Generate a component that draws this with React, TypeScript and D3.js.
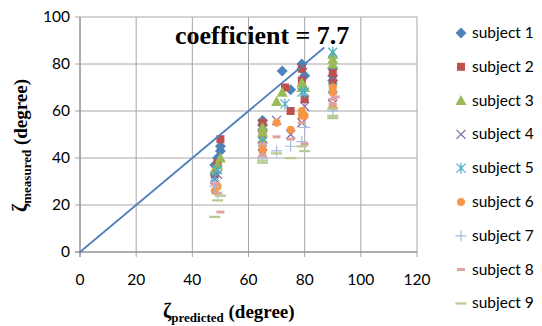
import React from "react";
import * as d3 from "d3";

// x = predicted, y = measured (degrees)
const subjectNames = [
  "subject 1", "subject 2", "subject 3", "subject 4", "subject 5",
  "subject 6", "subject 7", "subject 8", "subject 9",
];
const s1: [number, number][] = [[48, 37], [49, 40], [50, 43], [50, 45], [65, 52], [65, 54], [65, 56], [72, 77], [75, 69], [79, 80], [79, 78], [80, 75], [90, 78], [90, 75], [90, 73]];
const s2: [number, number][] = [[48, 33], [49, 38], [50, 48], [65, 50], [65, 55], [73, 70], [75, 60], [79, 78], [79, 73], [80, 65], [90, 72], [90, 76]];
const s3: [number, number][] = [[48, 35], [49, 37], [50, 40], [65, 48], [65, 51], [65, 53], [70, 64], [72, 68], [79, 72], [79, 70], [80, 70], [90, 80], [90, 82], [90, 84]];
const s4: [number, number][] = [[48, 31], [49, 33], [65, 42], [65, 45], [70, 56], [75, 50], [79, 55], [80, 62], [90, 63], [90, 66]];
const s5: [number, number][] = [[48, 32], [49, 35], [65, 47], [73, 63], [79, 68], [80, 68], [90, 70], [90, 85]];
const s6: [number, number][] = [[48, 26], [49, 28], [65, 43], [65, 44], [70, 55], [75, 52], [79, 60], [79, 58], [80, 58], [90, 62], [90, 68], [90, 70]];
const s7: [number, number][] = [[48, 28], [49, 25], [65, 40], [70, 43], [75, 45], [79, 47], [80, 53], [90, 60]];
const s8: [number, number][] = [[48, 29], [49, 25], [50, 17], [65, 41], [65, 46], [70, 49], [75, 48], [79, 55], [80, 46], [90, 63], [90, 65], [91, 66]];
const s9: [number, number][] = [[48, 15], [49, 22], [50, 24], [65, 38], [65, 39], [70, 42], [75, 40], [79, 45], [80, 43], [90, 57], [90, 58], [90, 61]];
const seriesData = [s1, s2, s3, s4, s5, s6, s7, s8, s9];
const colors = ["#4F81BD", "#C0504D", "#9BBB59", "#8064A2", "#4BACC6", "#F79646", "#AAB9DC", "#E0A0A0", "#B5CB8F"];
const xTicks = [0, 20, 40, 60, 80, 100, 120];
const yTicks = [0, 20, 40, 60, 80, 100];
const refLine: [number, number][] = [[0, 0], [87, 87]];

const x = d3.scaleLinear().domain([0, 120]).range([80, 417]);
const y = d3.scaleLinear().domain([0, 100]).range([252, 17]);

const Marker = ({ i, cx, cy }: { i: number; cx: number; cy: number }) => {
  const c = colors[i];
  switch (i) {
    case 0:
      return <path d={`M${cx},${cy - 5.5}L${cx + 5.5},${cy}L${cx},${cy + 5.5}L${cx - 5.5},${cy}Z`} fill={c} />;
    case 1:
      return <rect x={cx - 4} y={cy - 4} width={8} height={8} fill={c} />;
    case 2:
      return <path d={`M${cx},${cy - 5.5}L${cx + 5.5},${cy + 4.5}L${cx - 5.5},${cy + 4.5}Z`} fill={c} />;
    case 3:
      return <path d={`M${cx - 4.5},${cy - 4.5}L${cx + 4.5},${cy + 4.5}M${cx + 4.5},${cy - 4.5}L${cx - 4.5},${cy + 4.5}`} stroke={c} strokeWidth={1.2} />;
    case 4:
      return <path d={`M${cx - 4.5},${cy - 4.5}L${cx + 4.5},${cy + 4.5}M${cx + 4.5},${cy - 4.5}L${cx - 4.5},${cy + 4.5}M${cx},${cy - 5.5}L${cx},${cy + 5.5}`} stroke={c} strokeWidth={1.2} />;
    case 5:
      return <circle cx={cx} cy={cy} r={4} fill={c} />;
    case 6:
      return <path d={`M${cx - 5.5},${cy}L${cx + 5.5},${cy}M${cx},${cy - 5.5}L${cx},${cy + 5.5}`} stroke={c} strokeWidth={1.2} />;
    case 7:
      return <rect x={cx - 4} y={cy - 1.5} width={8} height={3} fill={c} />;
    default:
      return <rect x={cx - 5.5} y={cy - 1} width={11} height={2.2} fill={c} />;
  }
};

const line = d3.line<[number, number]>().x((d) => x(d[0])).y((d) => y(d[1]));

export default function App() {
  const tickFont = "Lato, 'Open Sans', sans-serif";
  return (
    <svg width={542} height={326} style={{ position: "absolute", left: 0, top: 0 }}>
      <rect width={542} height={326} fill="#fff" />
      {/* grid */}
      {yTicks.map((t) => (
        <line key={"gy" + t} x1={x(0) - 5} x2={x(120)} y1={y(t)} y2={y(t)} stroke="#A6A6A6" strokeWidth={1} />
      ))}
      {xTicks.map((t) => (
        <line key={"gx" + t} x1={x(t)} x2={x(t)} y1={y(100)} y2={y(0) + 5} stroke="#A6A6A6" strokeWidth={1} />
      ))}
      <line x1={x(0)} x2={x(0)} y1={y(100)} y2={y(0) + 5} stroke="#868686" />
      <line x1={x(0) - 5} x2={x(120)} y1={y(0)} y2={y(0)} stroke="#868686" />
      {yTicks.map((t) => (
        <text key={"ly" + t} x={70} y={y(t) + 5} textAnchor="end" fontFamily={tickFont} fontSize={15.5} fill="#000">
          {t}
        </text>
      ))}
      {xTicks.map((t) => (
        <text key={"lx" + t} x={x(t)} y={285} textAnchor="middle" fontFamily={tickFont} fontSize={15.5} fill="#000">
          {t}
        </text>
      ))}
      {/* data */}
      {seriesData.map((pts, i) =>
        pts.map((p, j) => <Marker key={i + "-" + j} i={i} cx={x(p[0])} cy={y(p[1])} />)
      )}
      <path d={line(refLine) || ""} fill="none" stroke="#4F81BD" strokeWidth={1.8} />
      <text x={175} y={44} fontFamily="'Liberation Serif', serif" fontWeight="bold" fontSize={26} fill="#000">
        coefficient = 7.7
      </text>
      {/* axis titles */}
      <text x={163} y={318} fontFamily="'Liberation Serif', serif" fontWeight="bold" fill="#000">
        <tspan fontSize={20}>ζ</tspan>
        <tspan fontSize={13} dy={4}>predicted</tspan>
        <tspan fontSize={19} dy={-4}> (degree)</tspan>
      </text>
      <text transform="translate(27,212) rotate(-90)" fontFamily="'Liberation Serif', serif" fontWeight="bold" fill="#000">
        <tspan fontSize={20}>ζ</tspan>
        <tspan fontSize={13} dy={4}>measured</tspan>
        <tspan fontSize={19} dy={-4}> (degree)</tspan>
      </text>
      {/* legend */}
      {subjectNames.map((name, i) => {
        const ly = 33 + i * 33.8;
        return (
          <g key={name}>
            <Marker i={i} cx={461} cy={ly} />
            <text x={472} y={ly + 5} fontFamily={tickFont} fontSize={15.5} fill="#000">
              {name}
            </text>
          </g>
        );
      })}
    </svg>
  );
}
